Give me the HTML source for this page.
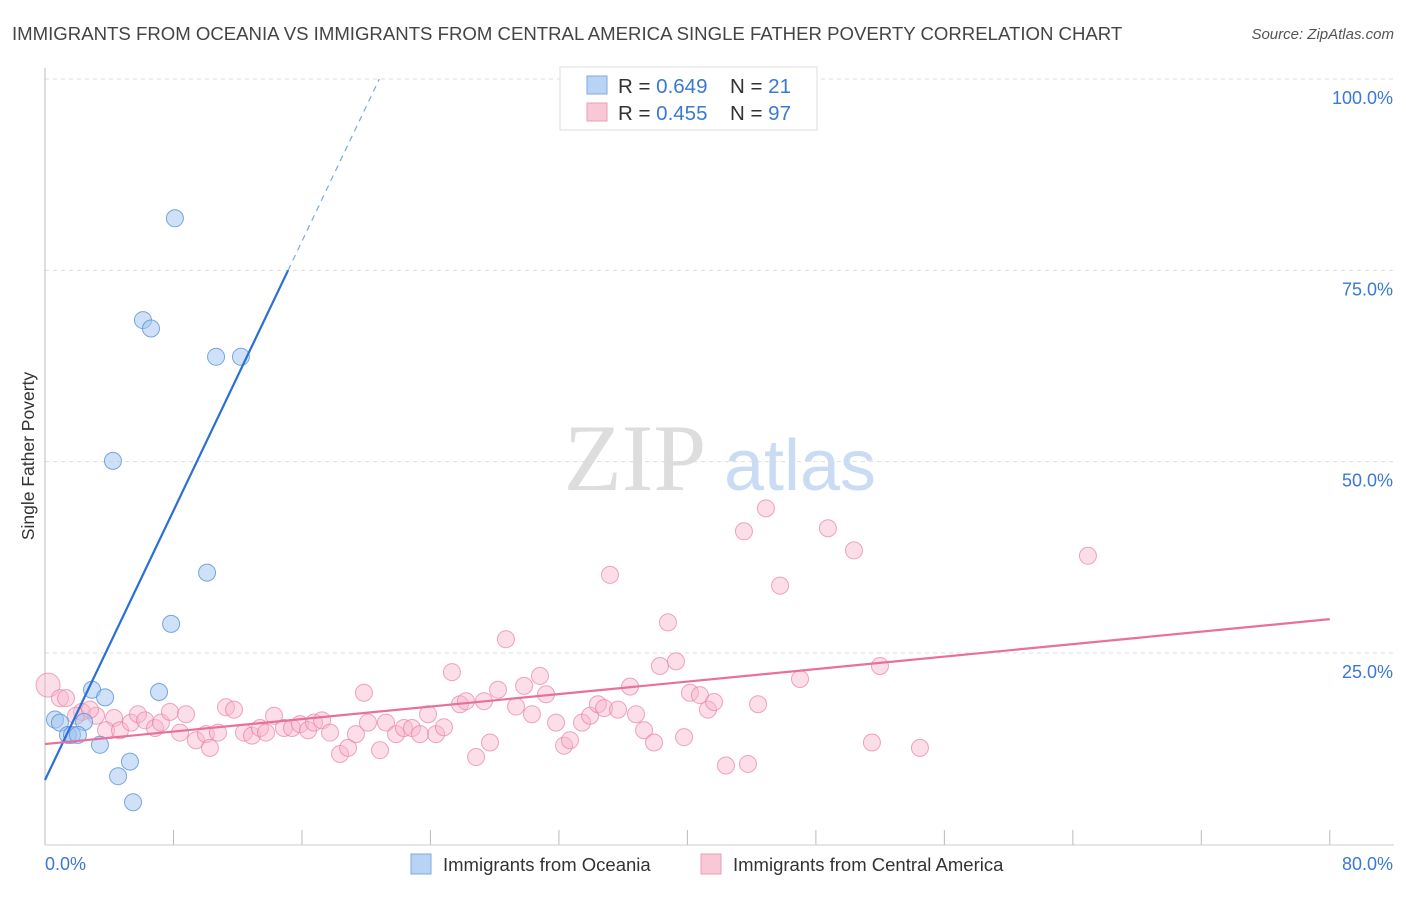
<!DOCTYPE html>
<html><head><meta charset="utf-8"><style>
body{margin:0;background:#fff;font-family:"Liberation Sans",sans-serif}
svg text{font-family:"Liberation Sans",sans-serif}
</style></head><body>
<svg width="1406" height="892" xmlns="http://www.w3.org/2000/svg">
<text x="12" y="40" font-size="18.6" fill="#444">IMMIGRANTS FROM OCEANIA VS IMMIGRANTS FROM CENTRAL AMERICA SINGLE FATHER POVERTY CORRELATION CHART</text>
<text x="1394" y="39" font-size="15" fill="#555" font-style="italic" text-anchor="end">Source: ZipAtlas.com</text>
<text transform="translate(34,456) rotate(-90)" font-size="17.5" fill="#333" text-anchor="middle">Single Father Poverty</text>
<g id="grid"></g>
<line x1="45" y1="68" x2="45" y2="845" stroke="#bbb"/>
<line x1="45" y1="845" x2="1394" y2="845" stroke="#ccc"/>
<g>
<text x="635" y="490" font-size="95" fill="#ddd" text-anchor="middle" font-family="Liberation Serif" style="font-family:'Liberation Serif',serif">ZIP</text>
<text x="800" y="490" font-size="72" fill="#c9dcf3" text-anchor="middle">atlas</text>
</g>
<g id="marks"></g>
<g>
<rect x="560" y="67" width="257" height="63" fill="#fff" stroke="#ddd"/>
<rect x="587" y="76" width="20" height="18" fill="#b9d3f5" stroke="#7ea8e4"/>
<rect x="587" y="103" width="20" height="18" fill="#f9c8d7" stroke="#ec9bb5"/>
<text x="618" y="93" font-size="20.5" fill="#333">R = <tspan fill="#3a78d6">0.649</tspan></text>
<text x="730" y="93" font-size="20.5" fill="#333">N = <tspan fill="#3a78d6"> 21</tspan></text>
<text x="618" y="120" font-size="20.5" fill="#333">R = <tspan fill="#3a78d6">0.455</tspan></text>
<text x="730" y="120" font-size="20.5" fill="#333">N = <tspan fill="#3a78d6">97</tspan></text>
</g>
<g>
<rect x="411" y="854" width="20" height="20" fill="#b9d3f5" stroke="#7ea8e4"/>
<text x="443" y="871" font-size="18.5" fill="#333">Immigrants from Oceania</text>
<rect x="701" y="854" width="20" height="20" fill="#f9c8d7" stroke="#ec9bb5"/>
<text x="733" y="871" font-size="18.5" fill="#333">Immigrants from Central America</text>
</g>
<text x="45" y="870" font-size="18" fill="#3a78d6">0.0%</text>
<text x="1393" y="870" font-size="18" fill="#3a78d6" text-anchor="end">80.0%</text>
</svg>
<script>
const yTicks=[25,50,75,100];
const yTickLabels=["25.0%","50.0%","75.0%","100.0%"];
const xTicks=[0,8,16,24,32,40,48,56,64,72,80];
const blueX=[8.09,6.10,6.60,10.65,12.20,4.23,10.09,7.85,2.93,3.74,7.10,0.62,0.93,2.43,1.43,1.68,2.05,3.42,4.55,5.29,5.48];
const blueY=[81.8,68.5,67.4,63.7,63.7,50.1,35.5,28.8,20.2,19.2,19.9,16.3,15.9,16.0,14.3,14.3,14.3,13.0,8.9,10.8,5.5];
const pinkX=[0.19,0.93,1.31,2.30,3.18,1.93,2.80,4.30,3.80,4.67,5.35,5.79,6.23,6.85,7.22,7.78,8.78,8.41,9.40,10.02,10.27,10.77,11.27,11.77,12.39,12.89,13.39,13.76,14.26,14.88,15.38,15.88,16.38,16.75,17.25,17.75,18.37,18.87,19.36,19.86,20.11,20.86,21.23,21.86,22.35,22.85,23.35,23.85,24.35,24.84,25.34,25.84,26.21,26.84,27.33,27.71,28.21,28.70,29.33,29.83,30.32,30.82,31.20,31.82,32.32,32.69,33.44,33.94,34.43,34.81,35.18,35.68,36.43,36.80,37.30,37.92,38.29,38.79,39.29,39.79,40.16,40.78,41.28,41.66,42.40,43.52,43.77,44.40,44.89,45.77,47.01,48.75,50.37,51.49,51.99,54.48,64.94];
const pinkY=[20.8,19.1,19.1,17.3,16.8,16.8,17.6,16.5,14.9,14.9,15.9,17.0,16.2,15.2,15.9,17.3,17.0,14.6,13.6,14.4,12.6,14.6,17.9,17.6,14.6,14.2,15.2,14.6,16.8,15.2,15.2,15.7,14.9,15.9,16.2,14.6,11.8,12.6,14.4,19.8,15.9,12.3,15.9,14.4,15.2,15.2,14.4,17.0,14.4,15.3,22.5,18.3,18.7,11.4,18.7,13.3,20.2,26.8,18.0,20.7,17.0,22.0,19.6,15.9,12.9,13.6,15.9,16.8,18.3,17.8,35.2,17.6,20.6,17.0,14.9,13.3,23.3,29.0,23.9,14.0,19.8,19.5,17.6,18.6,10.3,40.9,10.5,18.3,43.9,33.8,21.6,41.3,38.4,13.3,23.3,12.6,37.7];
const blueTrend=[8.4,4.40];   // intercept, slope
const pinkTrend=[13.1,0.204];
const NS='http://www.w3.org/2000/svg';
const X=v=>45+v*16.06;
const Y=v=>844.3-v*7.653;
function mk(t,a,p){const e=document.createElementNS(NS,t);for(const k in a)e.setAttribute(k,a[k]);p.appendChild(e);return e;}
const grid=document.getElementById('grid'),marks=document.getElementById('marks');
yTicks.forEach((t,i)=>{
 const l=mk('line',{x1:45,x2:1394,y1:Y(t),y2:Y(t),stroke:'#ddd','stroke-dasharray':'4,4'},grid);
 
 
 const tx=mk('text',{x:1393,y:Y(t)+25,'font-size':18,fill:'#3a78d6','text-anchor':'end'},grid);
 tx.textContent=yTickLabels[i];
 
 
});
xTicks.forEach(t=>{
 const l=mk('line',{x1:X(t),x2:X(t),y1:830,y2:845,stroke:'#bbb'},grid);
 
 
});
pinkX.forEach((v,i)=>{
 const c=mk('circle',{cx:X(v),cy:Y(pinkY[i]),r:i==0?12:8.5,fill:'rgba(248,182,204,0.45)',stroke:'rgba(232,128,164,0.7)','stroke-width':1},marks);
 
 
});
blueX.forEach((v,i)=>{
 const c=mk('circle',{cx:X(v),cy:Y(blueY[i]),r:8.5,fill:'rgba(160,196,240,0.5)',stroke:'rgba(90,145,220,0.8)','stroke-width':1},marks);
 
 
});
const bx1=(75-blueTrend[0])/blueTrend[1], bx2=(100-blueTrend[0])/blueTrend[1];
let l=mk('line',{x1:X(0),y1:Y(blueTrend[0]),x2:X(bx1),y2:Y(75),stroke:'#2a6fd6','stroke-width':2.2},marks);


l=mk('line',{x1:X(bx1),y1:Y(75),x2:X(bx2),y2:Y(100),stroke:'#7ea8e4','stroke-width':1.2,'stroke-dasharray':'6,5'},marks);


l=mk('line',{x1:X(0),y1:Y(pinkTrend[0]),x2:X(80),y2:Y(pinkTrend[0]+80*pinkTrend[1]),stroke:'#e8709a','stroke-width':2.2},marks);


</script>
</body></html>
